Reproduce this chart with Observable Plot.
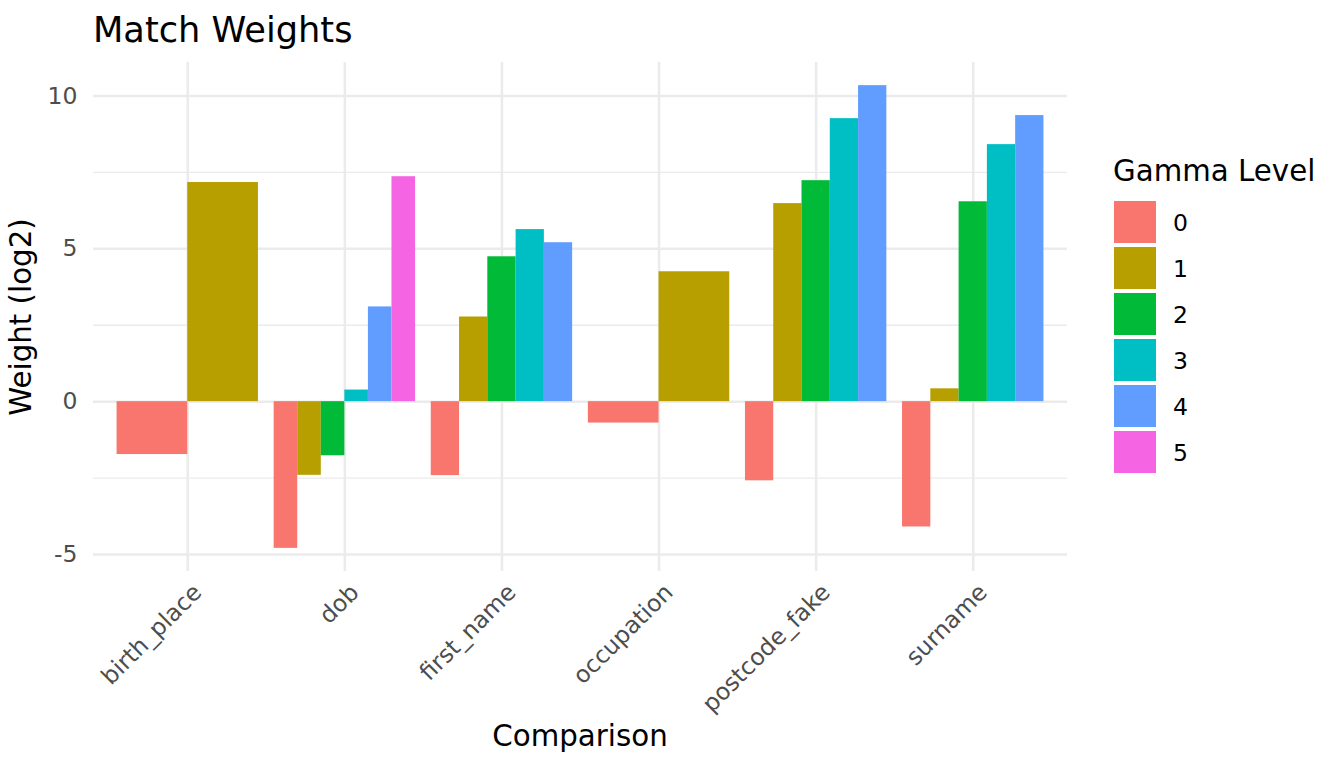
<!DOCTYPE html>
<html>
<head>
<meta charset="utf-8">
<script src="https://cdn.jsdelivr.net/npm/d3@7"></script>
<script src="https://cdn.jsdelivr.net/npm/@observablehq/plot@0.6"></script>
<style>
  html, body { margin: 0; padding: 0; background: #ffffff; }
  #wrap { position: relative; width: 1344px; height: 768px; overflow: hidden; font-family: "DejaVu Sans", sans-serif; }
  #wrap svg { position: absolute; left: 0; top: 0; }
  .lbl { position: absolute; line-height: 1; white-space: nowrap; color: #000; }
</style>
</head>
<body>
<div id="wrap"></div>
<script>
// ---- data ----
const comparisons = ["birth_place", "dob", "first_name", "occupation", "postcode_fake", "surname"];
const gammaLevels = ["0", "1", "2", "3", "4", "5"];
const gammaColors = ["#F8766D", "#B79F00", "#00BA38", "#00BFC4", "#619CFF", "#F564E3"];
const birthPlaceWeights   = [-1.73, 7.17];
const dobWeights          = [-4.80, -2.41, -1.77, 0.38, 3.10, 7.36];
const firstNameWeights    = [-2.42, 2.77, 4.74, 5.63, 5.20];
const occupationWeights   = [-0.70, 4.25];
const postcodeFakeWeights = [-2.59, 6.48, 7.23, 9.26, 10.34];
const surnameWeights      = [-4.10, 0.42, 6.54, 8.41, 9.36];
const yMajorTicks = [-5, 0, 5, 10];
const yMinorTicks = [-2.5, 2.5, 7.5];
const chartTitle = "Match Weights";
const xTitle = "Comparison";
const yTitle = "Weight (log2)";
const legendTitle = "Gamma Level";

// ---- build table (ggplot position_dodge, width 0.9) ----
const weightLists = [birthPlaceWeights, dobWeights, firstNameWeights, occupationWeights, postcodeFakeWeights, surnameWeights];
const rows = [];
weightLists.forEach((ws, ci) => {
  const n = ws.length, w = 0.9 / n;
  ws.forEach((v, li) => {
    const x1 = ci - 0.45 + li * w;
    rows.push({comparison: comparisons[ci], gamma: gammaLevels[li], weight: v, x1, x2: x1 + w});
  });
});
const allW = rows.map(d => d.weight).concat([0]);
const lo = d3.min(allW), hi = d3.max(allW), pad = (hi - lo) * 0.05;

const gridColor = "#EBEBEB";
const chart = Plot.plot({
  width: 1344, height: 768,
  marginLeft: 93, marginRight: 277, marginTop: 62, marginBottom: 197,
  style: {fontFamily: "DejaVu Sans", background: "transparent", overflow: "visible"},
  x: {domain: [-0.6, comparisons.length - 0.4]},
  y: {domain: [lo - pad, hi + pad]},
  color: {domain: gammaLevels, range: gammaColors},
  marks: [
    Plot.gridY(yMinorTicks, {stroke: gridColor, strokeOpacity: 1, strokeWidth: 1.3}),
    Plot.gridY(yMajorTicks, {stroke: gridColor, strokeOpacity: 1, strokeWidth: 2.5}),
    Plot.gridX(d3.range(comparisons.length), {stroke: gridColor, strokeOpacity: 1, strokeWidth: 2.5}),
    Plot.rect(rows, {x1: "x1", x2: "x2", y1: 0, y2: "weight", fill: "gamma"}),
    Plot.axisY(yMajorTicks, {tickSize: 0, tickPadding: 16, tickFormat: d => String(d), fontSize: 23.5, fill: "#4D4D4D", label: null}),
    Plot.axisX(d3.range(comparisons.length), {tickSize: 0, tickPadding: 17, dx: 10, tickRotate: -45, tickFormat: i => comparisons[i], fontSize: 23.5, fill: "#4D4D4D", label: null})
  ]
});
const wrap = document.getElementById("wrap");
wrap.appendChild(chart);

function addLabel(text, css) {
  const el = document.createElement("div");
  el.className = "lbl";
  el.textContent = text;
  Object.assign(el.style, css);
  wrap.appendChild(el);
  return el;
}
addLabel(chartTitle, {left: "93px", top: "11.9px", fontSize: "35.2px"});
addLabel(xTitle, {left: "580px", top: "722.2px", fontSize: "29.3px", transform: "translateX(-50%)"});
addLabel(yTitle, {left: "21.6px", top: "316.5px", fontSize: "29.3px", transform: "translate(-50%,-50%) rotate(-90deg)"});
addLabel(legendTitle, {left: "1113px", top: "157.2px", fontSize: "29.3px"});
gammaLevels.forEach((g, i) => {
  const key = document.createElement("div");
  Object.assign(key.style, {position: "absolute", left: "1114px", top: (201 + 46 * i) + "px", width: "42px", height: "42px", background: gammaColors[i]});
  wrap.appendChild(key);
  addLabel(g, {left: "1173px", top: (211.7 + 46 * i) + "px", fontSize: "23.5px"});
});
</script>
</body>
</html>
